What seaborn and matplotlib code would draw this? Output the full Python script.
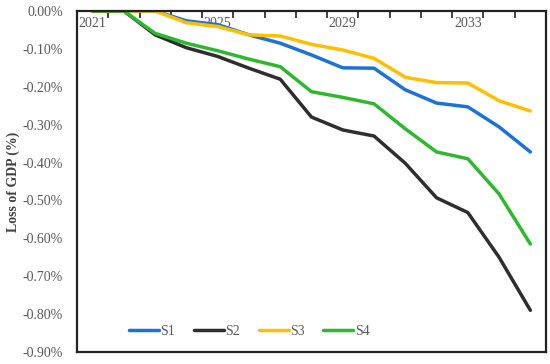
import numpy as np
import pandas as pd
import matplotlib
matplotlib.use("Agg")
import matplotlib.pyplot as plt
import seaborn as sns
from matplotlib.ticker import FuncFormatter, FixedLocator

# ---------------- data ----------------
years = list(range(2021, 2036))
s1 = [0, 0, 0, -0.026, -0.036, -0.063, -0.085, -0.116, -0.150, -0.151,
      -0.208, -0.243, -0.253, -0.306, -0.372]
s2 = [0, 0, -0.063, -0.097, -0.120, -0.151, -0.180, -0.280, -0.314, -0.330,
      -0.402, -0.493, -0.532, -0.650, -0.790]
s3 = [0, 0, 0, -0.031, -0.041, -0.063, -0.066, -0.088, -0.103, -0.125,
      -0.175, -0.189, -0.190, -0.237, -0.264]
s4 = [0, 0, -0.059, -0.085, -0.105, -0.127, -0.147, -0.213, -0.228, -0.245,
      -0.311, -0.372, -0.390, -0.483, -0.615]
series = {'S1': s1, 'S2': s2, 'S3': s3, 'S4': s4}
colors = ['#1B72D8', '#2E2E2E', '#FFBF00', '#2DB92D']
shown_years = [2021, 2025, 2029, 2033]
yticks = np.arange(0, -0.91, -0.1)

df = pd.concat([pd.DataFrame({'Year': years, 'Loss': v, 'Scenario': k})
                for k, v in series.items()])

sns.set_style("white")
plt.rcParams['font.family'] = ['Liberation Serif', 'DejaVu Serif']

fig = plt.figure(figsize=(5.5, 3.64), dpi=100)
ax = fig.add_axes([0.14, 0.033, 0.8527, 0.9368])

sns.lineplot(data=df, x='Year', y='Loss', hue='Scenario', palette=colors,
             lw=2.5, ax=ax, legend=True)

ax.set_xlim(2020.5, 2035.5)
ax.set_ylim(-0.9, 0)

# x axis drawn along the top (zero line), labels hanging inside
ax.xaxis.tick_top()
ax.xaxis.set_major_locator(FixedLocator(shown_years))
ax.xaxis.set_minor_locator(FixedLocator(np.arange(2021.5, 2035.5, 1)))
ax.tick_params(axis='x', which='major', length=0, labeltop=True, pad=-14,
               labelsize=10, labelcolor='#595959')
ax.tick_params(axis='x', which='minor', length=5, width=1.2, direction='in',
               color='#222222')
ax.set_xlabel('')

ax.set_yticks(yticks)
ax.yaxis.set_major_formatter(FuncFormatter(lambda v, p: f'{v:.2f}%'))
ax.tick_params(axis='y', length=5, width=1.2, direction='in', labelsize=10,
               labelcolor='#595959', color='#222222', pad=10)
ax.set_ylabel('Loss of GDP (%)', fontsize=10, fontweight='bold',
              color='#404040', labelpad=2)

for sp in ax.spines.values():
    sp.set_color('#222222')
    sp.set_linewidth(1.6)

leg = ax.legend(title=None, loc='lower left', bbox_to_anchor=(0.085, 0.005),
                ncol=4, frameon=False, fontsize=10, handlelength=2.15,
                handletextpad=0.1, columnspacing=1.35)
for t in leg.get_texts():
    t.set_color('#595959')
for l in leg.get_lines():
    l.set_linewidth(2.5)

fig.savefig('out.png', dpi=100)
